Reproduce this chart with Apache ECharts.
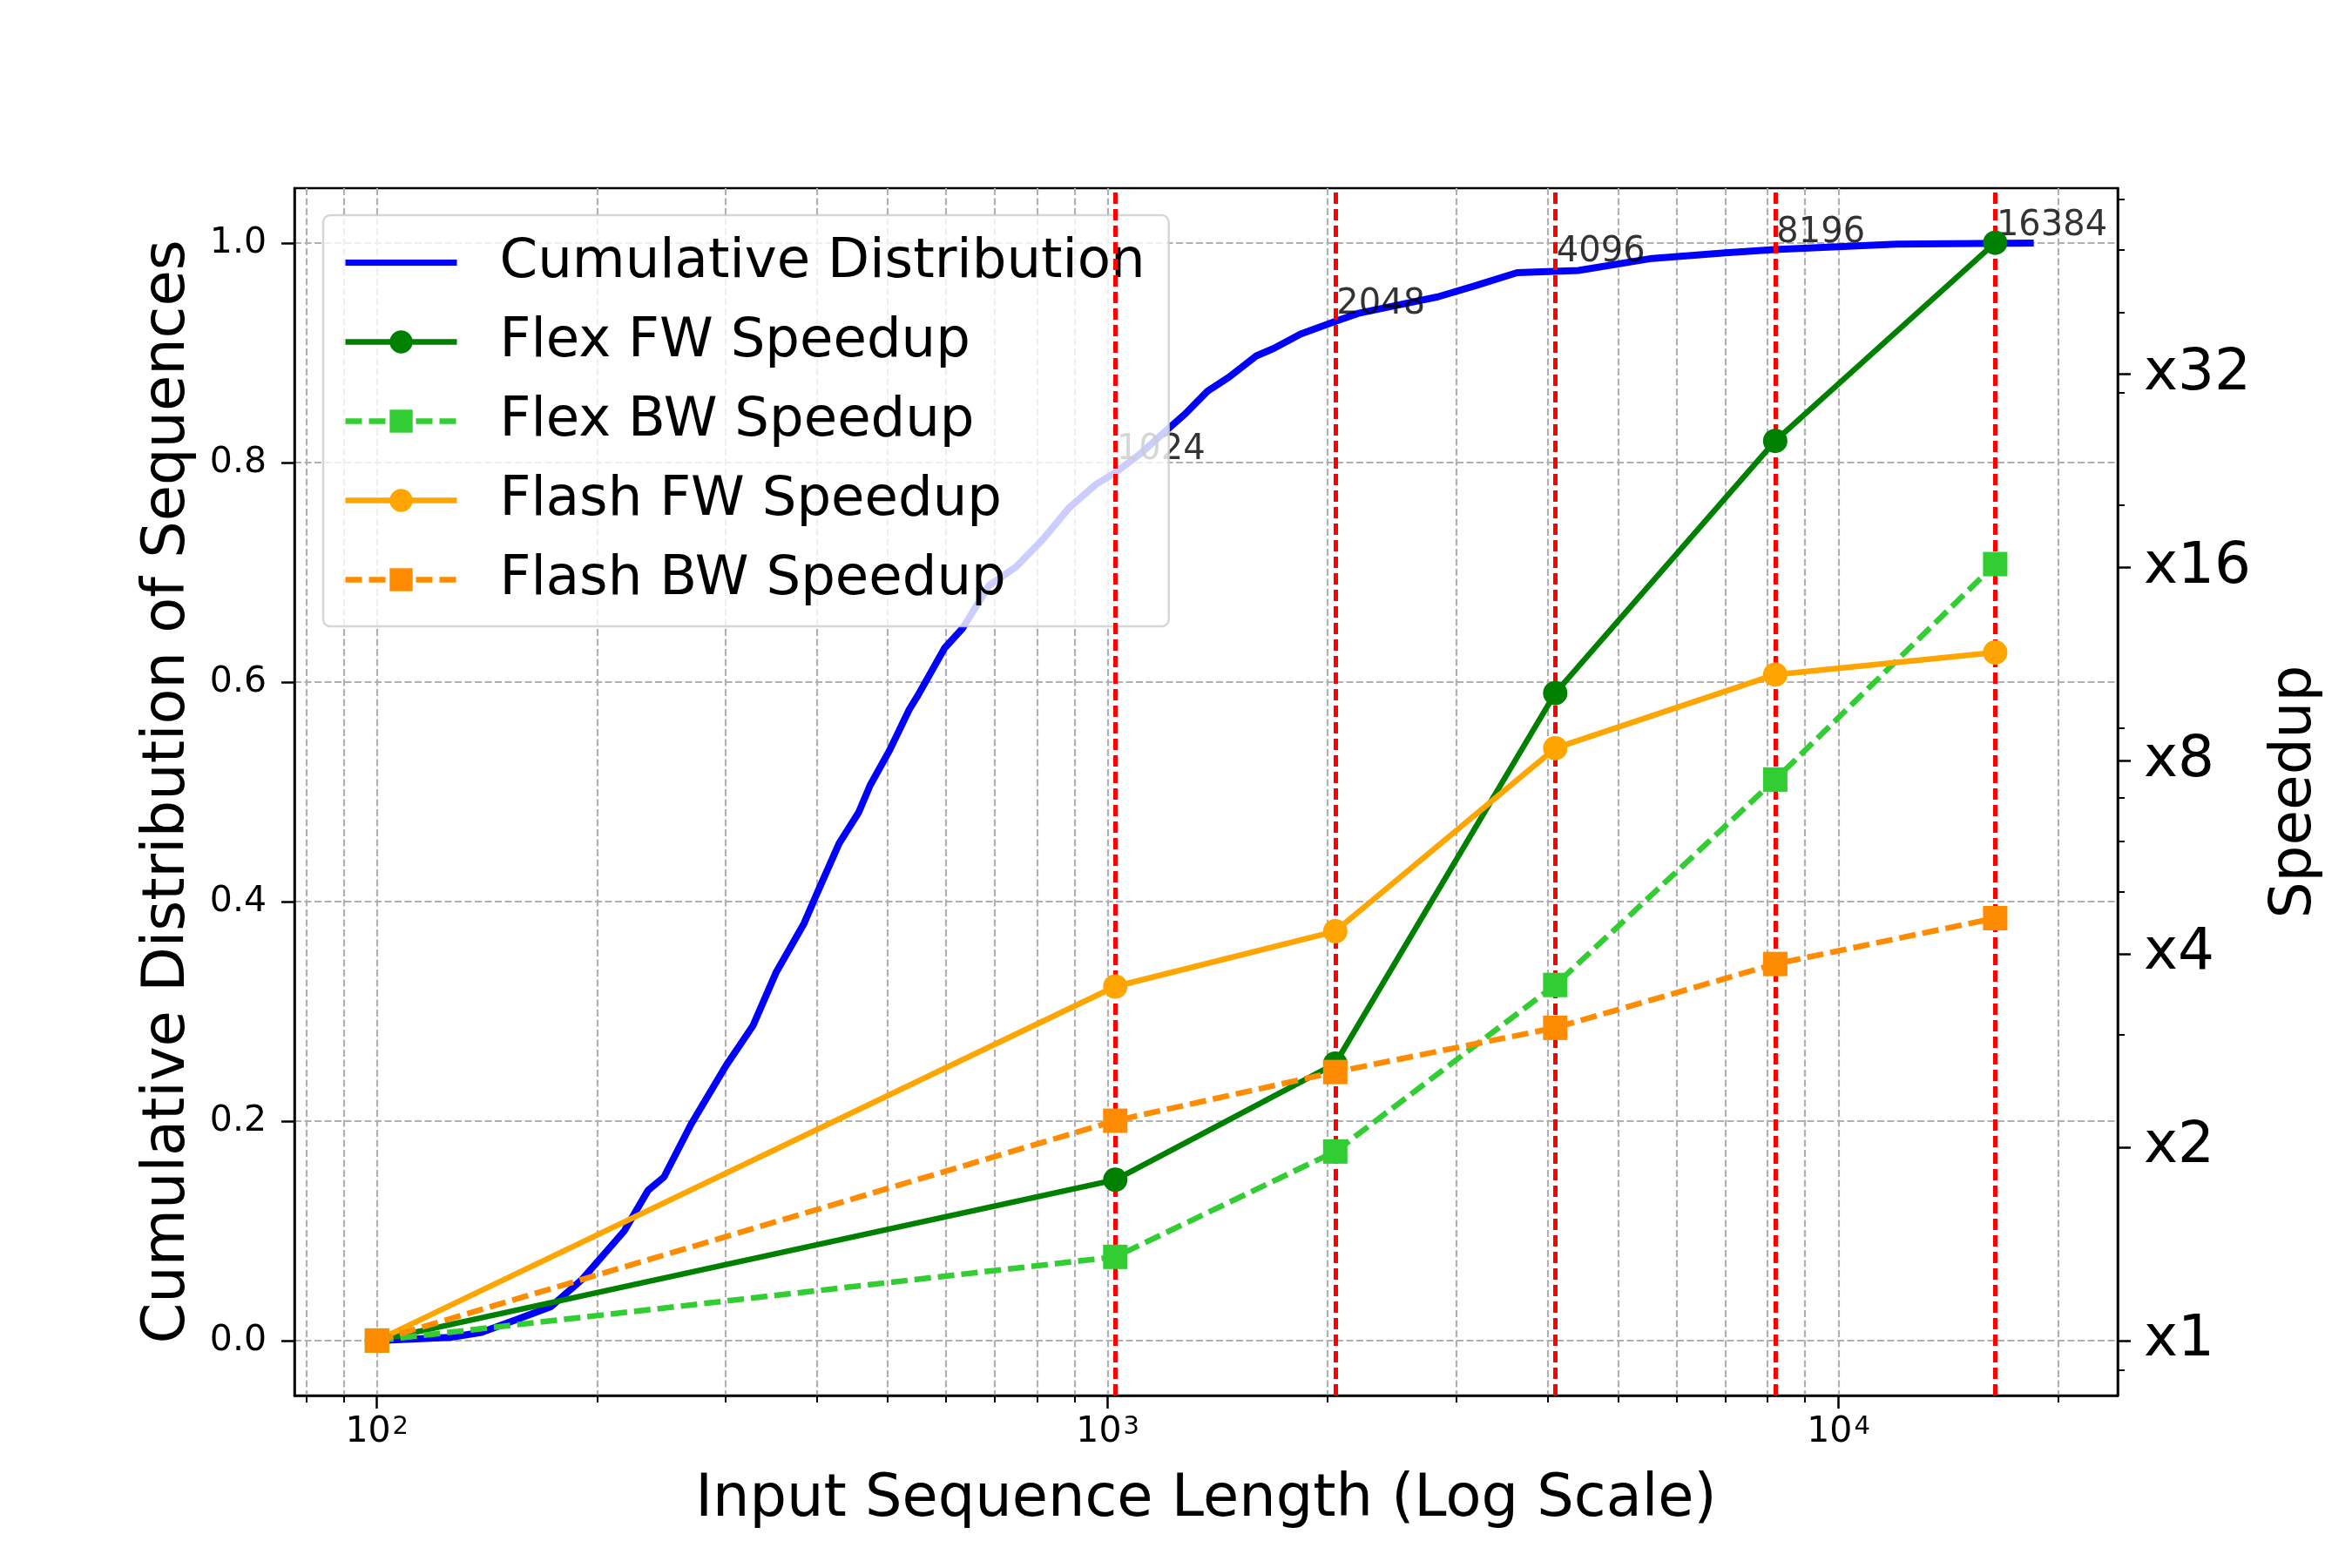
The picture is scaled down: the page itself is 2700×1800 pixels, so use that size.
<!DOCTYPE html>
<html>
<head>
<meta charset="utf-8">
<script src="https://cdn.jsdelivr.net/npm/echarts@6/dist/echarts.min.js"></script>
<style>
html,body{margin:0;padding:0;background:#fff}
#main{width:2700px;height:1800px}
</style>
</head>
<body>
<div id="main"></div>
<script>
// cumulative distribution of sequence lengths
var seqLen = [100, 126, 139, 155, 173, 191, 218, 235, 247, 269, 300, 327, 352, 384, 398, 429, 456, 473, 503, 535,
  550, 598, 633, 688, 749, 815, 886, 963, 1025, 1108, 1206, 1275, 1369, 1467, 1595, 1687, 1836, 2055, 2204,
  2473, 2830, 3180, 3633, 4406, 5557, 7000, 8170, 12000, 18500];
var cdfVal = [0, 0.003, 0.0075, 0.019, 0.031, 0.056, 0.100, 0.137, 0.149, 0.197, 0.250, 0.287, 0.336, 0.380, 0.404, 0.453, 0.481, 0.506, 0.538, 0.575,
  0.588, 0.631, 0.649, 0.688, 0.705, 0.730, 0.759, 0.780, 0.791, 0.808, 0.830, 0.844, 0.865, 0.878, 0.897, 0.904, 0.917, 0.929, 0.936,
  0.943, 0.951, 0.961, 0.973, 0.975, 0.986, 0.991, 0.994, 0.999, 1.0];

// speedups
var markLen = [100, 1024, 2048, 4096, 8192, 16384];
var flexFW  = [1, 1.78, 2.70, 10.2, 25.2, 51.3];
var flexBW  = [1, 1.35, 1.97, 3.58, 7.48, 16.2];
var flashFW = [1, 3.56, 4.34, 8.37, 10.9, 11.8];
var flashBW = [1, 2.20, 2.62, 3.07, 3.86, 4.55];

// red guide lines and their labels
var guideLen  = [1024, 2048, 4096, 8192, 16384];
var guideText = ['1024', '2048', '4096', '8196', '16384'];
var guideCdf  = [0.795, 0.928, 0.975, 0.993, 0.999];

// ticks
var xMajor = [100, 1000, 10000];
var xMinor = [80, 90, 200, 300, 400, 500, 600, 700, 800, 900,
  2000, 3000, 4000, 5000, 6000, 7000, 8000, 9000, 20000];
var yLeftTicks = [0, 0.2, 0.4, 0.6, 0.8, 1.0];
var yRightMajor = [1, 2, 4, 8, 16, 32];
var yRightMinor = [0.9, 3, 5, 6, 7, 9, 20, 30, 40, 50, 60];

var FONT = 'DejaVu Sans';

function pairs(xs, ys) {
  return xs.map(function (x, i) { return [x, ys[i]]; });
}

var chart = echarts.init(document.getElementById('main'));

var gridLine = {show: true, lineStyle: {color: '#b0b0b0', width: 2.2, type: [8, 3.5]}};

function speedSeries(name, vals, color, sym, dashed) {
  return {
    name: name, type: 'line', xAxisIndex: 0, yAxisIndex: 1,
    data: pairs(markLen, vals),
    symbol: sym, symbolSize: 28,
    itemStyle: {color: color},
    lineStyle: {color: color, width: 6.5, type: dashed ? [19, 8] : 'solid'},
    z: 5
  };
}

chart.setOption({
  animation: false,
  backgroundColor: '#fff',
  textStyle: {fontFamily: FONT},
  grid: {left: 338, right: 269, top: 216, bottom: 198, show: true,
    borderColor: '#000', borderWidth: 2.5, backgroundColor: 'transparent'},
  legend: {
    orient: 'vertical', left: 371, top: 247,
    padding: [23, 27, 22, 22],
    itemWidth: 128, itemHeight: 33, itemGap: 28,
    backgroundColor: 'rgba(255,255,255,0.8)',
    borderColor: 'rgba(204,204,204,0.8)', borderWidth: 2.5, borderRadius: 8,
    textStyle: {fontFamily: FONT, fontSize: 62.5, lineHeight: 61, color: '#000', padding: [0, 0, 0, 44]},
    lineStyle: {width: 6.5},
    data: [
      {name: 'Cumulative Distribution', itemStyle: {opacity: 0}, lineStyle: {width: 7}},
      'Flex FW Speedup', 'Flex BW Speedup', 'Flash FW Speedup', 'Flash BW Speedup'
    ]
  },
  xAxis: [{
    type: 'log', logBase: 10, min: 77.1, max: 24100,
    position: 'bottom',
    name: 'Input Sequence Length (Log Scale)', nameLocation: 'middle', nameGap: 87,
    nameTextStyle: {fontFamily: FONT, fontSize: 67, color: '#000'},
    axisLine: {show: true, onZero: false, lineStyle: {color: '#000', width: 2.5}},
    axisTick: {show: true, length: 15, lineStyle: {color: '#000', width: 2.5}, customValues: xMajor},
    axisLabel: {color: '#000', margin: 22, customValues: xMajor,
      formatter: function (v) {
        var e = Math.round(Math.log10(v));
        return '{b|10}{s|' + e + '}';
      },
      rich: {
        b: {fontFamily: FONT, fontSize: 41, lineHeight: 41, color: '#000', verticalAlign: 'bottom', padding: [8, 0, 0, 0]},
        s: {fontFamily: FONT, fontSize: 29, lineHeight: 29, color: '#000', verticalAlign: 'top', padding: [0, 0, 0, 2]}
      }},
    splitLine: gridLine
  }, {
    type: 'log', logBase: 10, min: 77.1, max: 24100,
    position: 'bottom',
    axisLine: {show: false, onZero: false},
    axisTick: {show: true, length: 8, lineStyle: {color: '#000', width: 2}, customValues: xMinor},
    axisLabel: {show: false, customValues: xMinor},
    splitLine: gridLine
  }],
  yAxis: [{
    type: 'value', min: -0.05, max: 1.05, position: 'left',
    name: 'Cumulative Distribution of Sequences', nameLocation: 'middle', nameGap: 111, nameRotate: 90,
    nameTextStyle: {fontFamily: FONT, fontSize: 67, color: '#000'},
    axisLine: {show: true, lineStyle: {color: '#000', width: 2.5}},
    axisTick: {show: true, length: 15, lineStyle: {color: '#000', width: 2.5}, customValues: yLeftTicks},
    axisLabel: {fontFamily: FONT, fontSize: 41, color: '#000', margin: 32, customValues: yLeftTicks,
      formatter: function (v) { return v.toFixed(1); }},
    splitLine: gridLine
  }, {
    type: 'log', logBase: 2, min: 0.821, max: 62.4, position: 'right',
    name: 'Speedup', nameLocation: 'middle', nameGap: 171, nameRotate: 90,
    nameTextStyle: {fontFamily: FONT, fontSize: 66, color: '#000'},
    axisLine: {show: true, lineStyle: {color: '#000', width: 2.5}},
    axisTick: {show: true, length: 15, lineStyle: {color: '#000', width: 2.5}, customValues: yRightMajor},
    axisLabel: {fontFamily: FONT, fontSize: 66, color: '#000', margin: 30, customValues: yRightMajor,
      formatter: function (v) { return 'x' + Math.round(v); }},
    splitLine: {show: false}
  }, {
    type: 'log', logBase: 2, min: 0.821, max: 62.4, position: 'right',
    axisLine: {show: false},
    axisTick: {show: true, length: 8, lineStyle: {color: '#000', width: 2}, customValues: yRightMinor},
    axisLabel: {show: false, customValues: yRightMinor},
    splitLine: {show: false}
  }],
  series: [{
    name: 'Cumulative Distribution', type: 'line', xAxisIndex: 0, yAxisIndex: 0,
    data: pairs(seqLen, cdfVal),
    symbol: 'none',
    itemStyle: {color: '#0000ff'},
    lineStyle: {color: '#0000ff', width: 8},
    z: 2,
    markLine: {
      silent: true, symbol: ['none', 'none'], label: {show: false},
      lineStyle: {color: '#ff0000', width: 5, type: [13, 6]},
      data: guideLen.map(function (v) { return {xAxis: v}; })
    }
  }, {
    name: 'guide labels', type: 'scatter', xAxisIndex: 0, yAxisIndex: 0,
    data: pairs(guideLen, guideCdf),
    symbolSize: 1, itemStyle: {color: 'rgba(0,0,0,0)'},
    label: {show: true, position: [2, 0], align: 'left', verticalAlign: 'bottom',
      fontFamily: FONT, fontSize: 40, color: '#000',
      formatter: function (p) { return guideText[p.dataIndex]; }},
    z: 3
  },
    speedSeries('Flex FW Speedup', flexFW, '#008000', 'circle', false),
    speedSeries('Flex BW Speedup', flexBW, '#32cd32', 'rect', true),
    speedSeries('Flash FW Speedup', flashFW, '#ffa500', 'circle', false),
    speedSeries('Flash BW Speedup', flashBW, '#ff8c00', 'rect', true)
  ]
});
</script>
</body>
</html>
